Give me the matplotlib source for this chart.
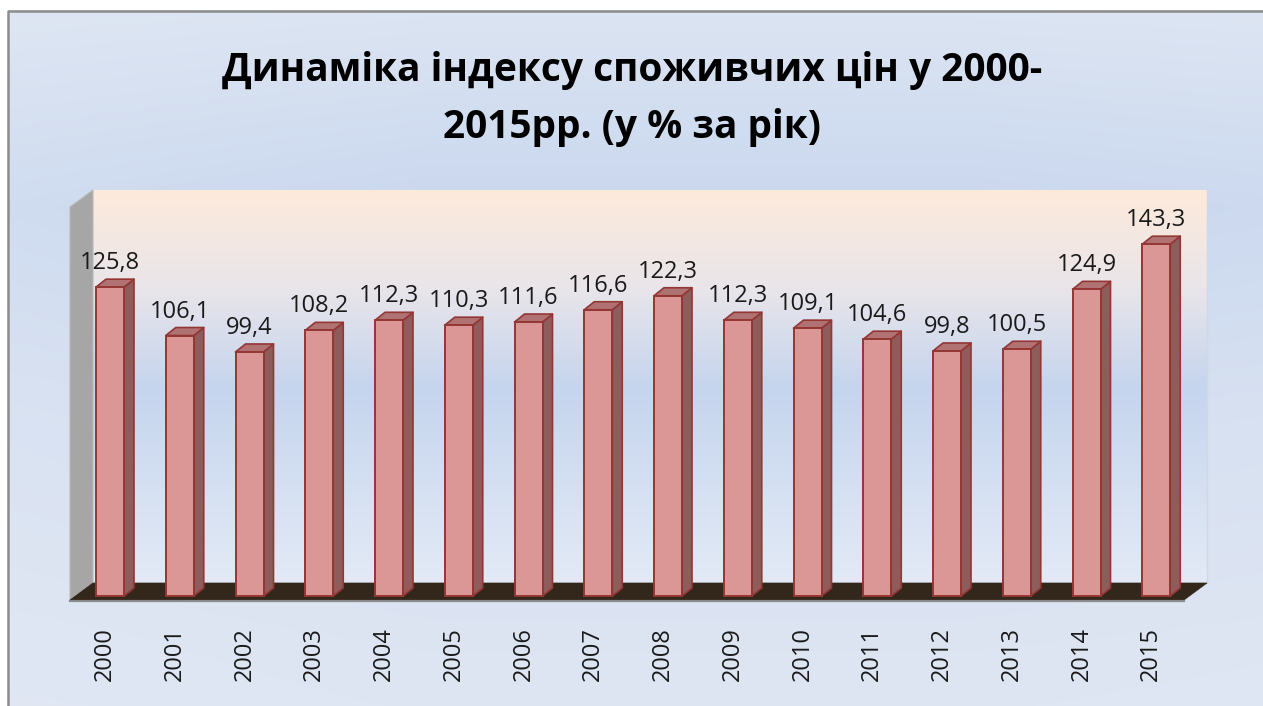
import numpy as np
import matplotlib.pyplot as plt
from matplotlib.patches import Polygon
from matplotlib.colors import to_rgb

# ---------------- data ----------------
years = [str(y) for y in range(2000, 2016)]
values = [125.8, 106.1, 99.4, 108.2, 112.3, 110.3, 111.6, 116.6,
          122.3, 112.3, 109.1, 104.6, 99.8, 100.5, 124.9, 143.3]
value_labels = [f"{v:.1f}".replace('.', ',') for v in values]
title = "Динаміка індексу споживчих цін у 2000-\n2015рр. (у % за рік)"

# ---------------- layout (pixel based) ----------------
W, H = 1263, 706
PX_X = 69.75      # pixels per category
X0 = 110          # pixel x of first category centre
PX_Y = 2.455      # pixels per value unit
Y0 = 596          # pixel row of value 0


def px2x(p):
    return (p - X0) / PX_X


def py2y(p):
    return (Y0 - p) / PX_Y


fig = plt.figure(figsize=(W / 100, H / 100), dpi=100, facecolor='#dfe6f3')
ax = fig.add_axes([0, 0, 1, 1])
ax.set_facecolor('#dfe6f3')
xmin, xmax = px2x(0), px2x(W)
ymin, ymax = py2y(H), py2y(0)
ax.axis('off')


def vgrad(stops, n=400):
    pos = np.array([s[0] for s in stops])
    cols = np.array([to_rgb(s[1]) for s in stops])
    t = np.linspace(0, 1, n)
    out = np.stack([np.interp(t, pos, cols[:, k]) for k in range(3)], axis=1)
    return out


# figure background gradient
rows = vgrad([(0, '#dee6f3'), (0.3, '#c9d7ee'), (0.6, '#d6e0f1'), (1.0, '#dfe6f3')], 300)
cols_n = 400
hx = np.linspace(0, 1, cols_n)
light = 0.25 * np.clip(1 - hx / 0.35, 0, 1) + 0.12 * np.clip((hx - 0.75) / 0.25, 0, 1)
img = rows[:, None, :] * (1 - light[None, :, None]) + light[None, :, None] * np.array(to_rgb('#e6ecf6'))
pad = 0.5
ax.imshow(img, extent=[xmin - pad, xmax + pad, ymin - 5, ymax + 5], aspect='auto', zorder=0,
          interpolation='bilinear')
ax.set_xlim(xmin, xmax)
ax.set_ylim(ymin, ymax)

# white margin + border
ax.add_patch(Polygon([(xmin - 1, ymin - 10), (px2x(8), ymin - 10), (px2x(8), ymax + 10), (xmin - 1, ymax + 10)],
                     closed=True, fc='white', ec='none', zorder=1))
ax.add_patch(Polygon([(xmin - 1, py2y(10)), (xmax + 1, py2y(10)), (xmax + 1, ymax + 10), (xmin - 1, ymax + 10)],
                     closed=True, fc='white', ec='none', zorder=1))
ax.plot([px2x(8), px2x(8), xmax + 1], [ymin - 10, py2y(11), py2y(11)], color='#8c8c8c',
        lw=1.8, zorder=2, solid_capstyle='butt')

# back wall
bw_l, bw_r, bw_t, bw_b = px2x(93), px2x(1207), py2y(190), py2y(583)
wall = vgrad([(0, '#fdeadb'), (0.25, '#e9e5ea'), (0.5, '#c5d5ee'), (1.0, '#e3eaf6')], 300)
ax.imshow(wall[:, None, :], extent=[bw_l, bw_r, bw_b, bw_t], aspect='auto', zorder=2,
          interpolation='bilinear')
ax.set_xlim(xmin, xmax)
ax.set_ylim(ymin, ymax)
ax.plot([bw_r, bw_r], [bw_b, bw_t], color='#d3d7de', lw=1, zorder=2)

# side wall (left)
fdx, fdy = px2x(70) - px2x(93), py2y(600) - py2y(583)
ax.add_patch(Polygon([(bw_l, bw_t), (bw_l + fdx, bw_t + fdy), (bw_l + fdx, bw_b + fdy),
                      (bw_l, bw_b)], closed=True, fc='#a6a6a6', ec='#b8b8b8', lw=0.8, zorder=3))

# floor
ax.add_patch(Polygon([(bw_l, bw_b), (bw_r, bw_b), (bw_r + fdx, bw_b + fdy), (bw_l + fdx, bw_b + fdy)],
                     closed=True, fc='#33261b', ec='#33261b', lw=0.5, zorder=3))
ax.plot([bw_l + fdx, bw_r + fdx], [bw_b + fdy - 0.4, bw_b + fdy - 0.4], color='#8a8a8a', lw=1.6, zorder=3)

# ---------------- 3D bars ----------------
x = np.arange(len(values))
bw = 28 / PX_X
DX = 10 / PX_X
DY = 8 / PX_Y
edge = '#943634'
for xi, v in zip(x, values):
    l, r = xi - bw / 2, xi + bw / 2
    ax.add_patch(Polygon([(r, 0), (r + DX, DY), (r + DX, v + DY), (r, v)], closed=True,
                         fc='#8e5c5b', ec=edge, lw=1.2, zorder=4, joinstyle='round'))
    ax.add_patch(Polygon([(l, v), (r, v), (r + DX, v + DY), (l + DX, v + DY)], closed=True,
                         fc='#b07272', ec=edge, lw=1.2, zorder=4, joinstyle='round'))
ax.bar(x, values, width=bw, bottom=0, color='#db9795', edgecolor=edge, linewidth=1.4, zorder=5)

FONT = ['Open Sans', 'DejaVu Sans']
for xi, v, lab in zip(x, values, value_labels):
    ax.text(xi, v + 18 / PX_Y, lab, ha='center', va='baseline', fontsize=17,
            family=FONT, color='#1a1a1a', zorder=6)

for xi, lab in zip(x, years):
    ax.text(xi - 5 / PX_X, py2y(627), lab, ha='center', va='top', rotation=90,
            fontsize=17, family=FONT, color='#1a1a1a', zorder=6)

fig.text(632 / W, 1 - 99 / H, title, ha='center', va='center', fontsize=28,
         fontweight='bold', family=FONT, color='black', linespacing=1.6)

fig.savefig('out.png', dpi=100, facecolor=fig.get_facecolor())
